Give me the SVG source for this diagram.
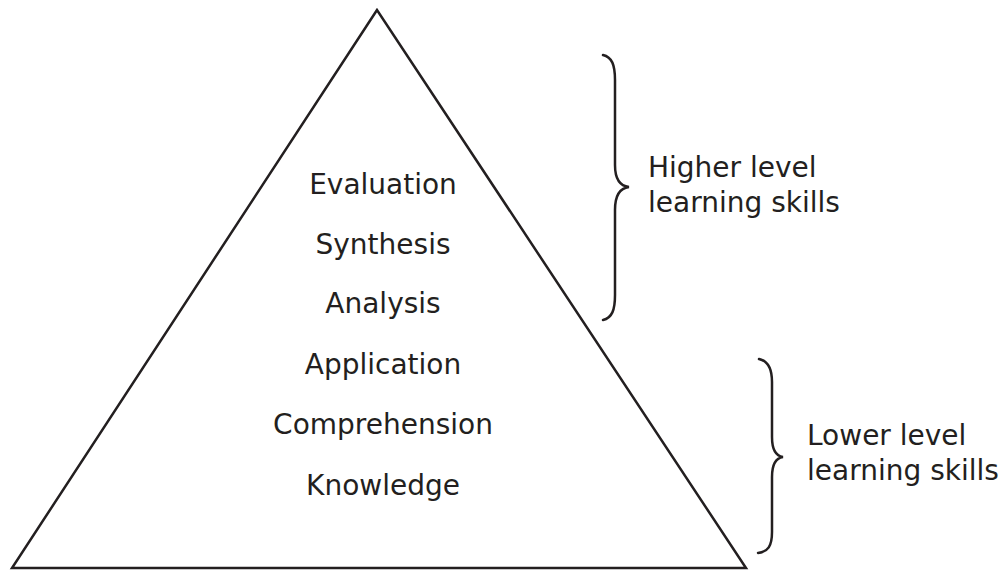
<svg xmlns="http://www.w3.org/2000/svg" width="1004" height="570" viewBox="0 0 1004 570">
<style>
.t{font-family:"DejaVu Sans","Liberation Sans",sans-serif;font-size:28px;fill:#231f20}
.c{text-anchor:middle}
.ln{fill:none;stroke:#231f20;stroke-width:2.5;stroke-linejoin:miter}
.br{fill:none;stroke:#231f20;stroke-width:2.5;stroke-linecap:round}
</style>
<rect width="1004" height="570" fill="#fff"/>
<g id="pyramid">
<polygon class="ln" points="377,10 12,568 746,568"/>
<text class="t c" x="383" y="194">Evaluation</text>
<text class="t c" x="383" y="254">Synthesis</text>
<text class="t c" x="383" y="313">Analysis</text>
<text class="t c" x="383" y="374">Application</text>
<text class="t c" x="383" y="434">Comprehension</text>
<text class="t c" x="383" y="495">Knowledge</text>
</g>
<g id="higher">
<path class="br" d="M603,55 C612,57 615,65 615,80 L615,165 C615,180 620,186 629,187 C620,188 615,195 615,210 L615,295 C615,310 612,318 603,320"/>
<text class="t" x="648" y="177">Higher level</text>
<text class="t" x="648" y="212">learning skills</text>
</g>
<g id="lower">
<path class="br" d="M759,359 C768,361 772,368 772,382 L772,437 C772,450 776,456 783,457 C776,458 772,464 772,477 L772,532 C772,546 768,552 758,553"/>
<text class="t" x="807" y="445">Lower level</text>
<text class="t" x="807" y="480">learning skills</text>
</g>
</svg>
